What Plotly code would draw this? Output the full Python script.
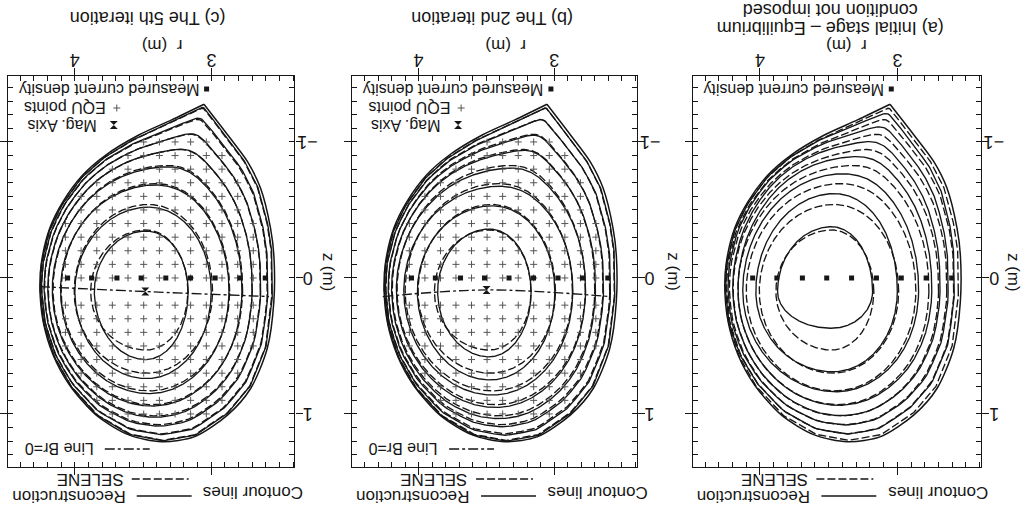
import numpy as np
import plotly.graph_objects as go

W, H = 1029, 511
FONT = "Liberation Sans, Arial, Helvetica, sans-serif"
INK = "#161616"

# ---------------- data ----------------
R_TICKS = [3, 4]
Z_TICKS = [-1, 0, 1]
Z_TICK_TEXT = ["\u22121", "0", "1"]
R_RANGE = [4.49, 2.39]      # r grows to the left (figure is printed upside down)
Z_RANGE = [1.39, -1.485]    # z grows downwards

# plasma boundary (separatrix), starting at the X-point
BOUNDARY_R = [3.053, 3.290, 3.531, 3.773, 3.942, 4.087, 4.184, 4.244, 4.256, 4.232,
              4.159, 4.039, 3.845, 3.604, 3.362, 3.121, 2.879, 2.710, 2.589, 2.541,
              2.541, 2.565, 2.638, 2.734, 2.879]
BOUNDARY_Z = [-1.277, -1.162, -1.051, -0.904, -0.757, -0.561, -0.365, -0.120, 0.064, 0.321,
              0.566, 0.787, 1.007, 1.154, 1.204, 1.167, 1.007, 0.811, 0.517, 0.174,
              -0.169, -0.365, -0.659, -0.855, -1.051]

# flux-surface crossings: outboard r, inboard r (midplane), upper z, lower z (through axis)
SELENE_R_OUT = [3.884, 4.005, 4.100, 4.160, 4.195, 4.222, 4.242, 4.252]
SELENE_R_IN = [3.171, 2.990, 2.865, 2.770, 2.700, 2.640, 2.590, 2.556]
SELENE_Z_UP = [0.530, 0.700, 0.830, 0.930, 1.010, 1.070, 1.130, 1.172]
SELENE_Z_DN = [-0.353, -0.540, -0.690, -0.810, -0.900, -0.970, -1.025, -1.062]

REC5_R_OUT = [3.857, 4.000, 4.105, 4.165, 4.198, 4.225, 4.243, 4.253]
REC5_R_IN = [3.169, 3.000, 2.870, 2.775, 2.700, 2.638, 2.586, 2.553]
REC5_Z_UP = [0.600, 0.740, 0.850, 0.940, 1.020, 1.080, 1.135, 1.175]
REC5_Z_DN = [-0.345, -0.520, -0.680, -0.800, -0.900, -0.970, -1.030, -1.064]

REC2_R_OUT = [3.860, 4.010, 4.110, 4.165, 4.200, 4.225, 4.243, 4.253]
REC2_R_IN = [3.170, 2.995, 2.862, 2.768, 2.695, 2.636, 2.585, 2.553]
REC2_Z_UP = [0.580, 0.750, 0.860, 0.950, 1.030, 1.085, 1.140, 1.178]
REC2_Z_DN = [-0.360, -0.530, -0.670, -0.790, -0.890, -0.960, -1.020, -1.060]

REC0_R_OUT = [3.872, 4.030, 4.125, 4.160, 4.198, 4.232, 4.250]
REC0_R_IN = [3.180, 3.000, 2.845, 2.749, 2.689, 2.630, 2.586]
REC0_Z_UP = [0.370, 0.690, 0.836, 0.934, 1.007, 1.070, 1.130]
REC0_Z_DN = [-0.377, -0.620, -0.760, -0.870, -0.950, -1.010, -1.055]

MAG_AXIS_R = [3.483, 3.499]          # panels (c), (b)
MAG_AXIS_Z = [0.100, 0.088]
BR0_C_R = [4.256, 3.483, 2.577]
BR0_C_Z = [0.064, 0.100, 0.137]
BR0_B_R = [4.265, 3.499, 2.586]
BR0_B_Z = [0.137, 0.088, 0.137]

MEAS_R = [4.053, 3.877, 3.691, 3.514, 3.333, 3.152, 2.971, 2.790, 2.604]
MEAS_Z = [0, 0, 0, 0, 0, 0, 0, 0, 0]

EQU_COLS_R = [4.184, 4.069, 3.954, 3.839, 3.725, 3.610, 3.495, 3.380, 3.265, 3.151,
              3.036, 2.921, 2.806, 2.692, 2.577]
EQU_ROWS_Z = [-1.0, -0.9, -0.8, -0.7, -0.6, -0.5, -0.4, -0.3, -0.2, -0.1, 0.0,
              0.2, 0.3, 0.4, 0.5, 0.6, 0.7, 0.8, 0.9, 1.0]
EQU_ROW_RMIN = [2.94, 2.87, 2.81, 2.76, 2.72, 2.70, 2.67, 2.66, 2.645, 2.645, 2.645,
                2.645, 2.645, 2.67, 2.69, 2.72, 2.76, 2.81, 2.89, 2.97]
EQU_ROW_RMAX = [3.52, 3.68, 3.79, 3.88, 3.96, 4.02, 4.07, 4.10, 4.14, 4.14, 4.14,
                4.14, 4.14, 4.11, 4.08, 4.04, 3.99, 3.93, 3.85, 3.75]

# ---------------- geometry helpers ----------------
R0, Z0 = 3.48, 0.10
NTH = 720
TH = np.linspace(-np.pi, np.pi, NTH, endpoint=False)


def boundary_polar():
    br = np.array(BOUNDARY_R + [BOUNDARY_R[0]])
    bz = np.array(BOUNDARY_Z + [BOUNDARY_Z[0]])
    t = np.linspace(0, len(br) - 1, 5000)
    dr = np.interp(t, np.arange(len(br)), br)
    dz = np.interp(t, np.arange(len(bz)), bz)
    ang = np.arctan2(dz - Z0, dr - R0)
    dist = np.hypot(dr - R0, dz - Z0)
    o = np.argsort(ang)
    return np.interp(TH, ang[o], dist[o], period=2 * np.pi)


D_RAW = boundary_polar()


def smooth_periodic(d, sigma):
    if sigma < 0.5:
        return d.copy()
    half = int(3 * sigma) + 1
    k = np.arange(-half, half + 1)
    w = np.exp(-0.5 * (k / sigma) ** 2)
    w /= w.sum()
    dp = np.concatenate([d[-half:], d, d[:half]])
    return np.convolve(dp, w, mode="valid")


def at(d, ang):
    return float(np.interp(ang, TH, d, period=2 * np.pi))


def flux_surface(r_out, r_in, z_up, z_dn):
    a_o, a_i, b_u, b_d = r_out - R0, R0 - r_in, z_up - Z0, Z0 - z_dn
    ratios = [a_o / at(D_RAW, 0.0), a_i / at(D_RAW, np.pi),
              b_u / at(D_RAW, np.pi / 2), b_d / at(D_RAW, -np.pi / 2)]
    rho = float(np.mean(ratios))
    ds = smooth_periodic(D_RAW, max(0.0, (1 - rho)) * NTH / 12)
    ro, ri = a_o / at(ds, 0.0), a_i / at(ds, np.pi)
    ru, rd = b_u / at(ds, np.pi / 2), b_d / at(ds, -np.pi / 2)
    c, s = np.cos(TH), np.sin(TH)
    rho_dir = (ro * np.clip(c, 0, None) ** 2 + ri * np.clip(-c, 0, None) ** 2
               + ru * np.clip(s, 0, None) ** 2 + rd * np.clip(-s, 0, None) ** 2)
    A = np.where(c >= 0, a_o, a_i)
    B = np.where(s >= 0, b_u, b_d)
    ell = 1.0 / np.sqrt((c / A) ** 2 + (s / B) ** 2)
    w = rho ** 4
    rad = (1 - w) * ell + w * rho_dir * ds
    r = R0 + rad * c
    z = Z0 + rad * s
    return np.append(r, r[0]), np.append(z, z[0])


# ---------------- figure ----------------
fig = go.Figure()
Y_DOM = [1 - 467 / H, 1 - 76 / H]
PANELS = [
    dict(key="", x0=6, x1=293, rec=(REC5_R_OUT, REC5_R_IN, REC5_Z_UP, REC5_Z_DN),
         br=(BR0_C_R, BR0_C_Z), mag=0, equ=True),
    dict(key="2", x0=351, x1=636, rec=(REC2_R_OUT, REC2_R_IN, REC2_Z_UP, REC2_Z_DN),
         br=(BR0_B_R, BR0_B_Z), mag=1, equ=True),
    dict(key="3", x0=692, x1=981, rec=(REC0_R_OUT, REC0_R_IN, REC0_Z_UP, REC0_Z_DN),
         br=None, mag=None, equ=False),
]

SOLID = dict(color=INK, width=1.35)
DASHED = dict(color=INK, width=1.35, dash="8px,3px")
BRDASH = dict(color=INK, width=1.35, dash="10px,3px,3px,3px")
PLUS = dict(symbol="cross-thin", size=5, color="#555", line=dict(color="#555", width=1))

ann = []


def txt(px, py, s, size=17, angle=180):
    ann.append(dict(x=px / W, y=1 - py / H, xref="paper", yref="paper", text=s, showarrow=False,
                    textangle=angle, font=dict(family=FONT, size=size, color=INK),
                    xanchor="center", yanchor="middle"))


for p in PANELS:
    xa, ya = "x" + p["key"], "y" + p["key"]
    for i in range(len(SELENE_R_OUT)):
        r, z = flux_surface(SELENE_R_OUT[i], SELENE_R_IN[i], SELENE_Z_UP[i], SELENE_Z_DN[i])
        fig.add_trace(go.Scatter(x=r, y=z, mode="lines", line=DASHED, xaxis=xa, yaxis=ya,
                                 hoverinfo="skip", showlegend=False))
    ro, ri, zu, zd = p["rec"]
    for i in range(len(ro)):
        r, z = flux_surface(ro[i], ri[i], zu[i], zd[i])
        fig.add_trace(go.Scatter(x=r, y=z, mode="lines", line=SOLID, xaxis=xa, yaxis=ya,
                                 hoverinfo="skip", showlegend=False))
    # boundary: open path from the X-point around back to (just beside) the X-point
    fig.add_trace(go.Scatter(x=BOUNDARY_R + [BOUNDARY_R[0] + 1e-4], y=BOUNDARY_Z + [BOUNDARY_Z[0]],
                             mode="lines", line=dict(color=INK, width=1.5, shape="spline", smoothing=0.8),
                             xaxis=xa, yaxis=ya, hoverinfo="skip", showlegend=False))
    if p["equ"]:
        er, ez = [], []
        for zz, lo, hi in zip(EQU_ROWS_Z, EQU_ROW_RMIN, EQU_ROW_RMAX):
            for rr in EQU_COLS_R:
                if lo <= rr <= hi:
                    er.append(rr)
                    ez.append(zz)
        fig.add_trace(go.Scatter(x=er, y=ez, mode="markers", xaxis=xa, yaxis=ya, marker=PLUS,
                                 hoverinfo="skip", showlegend=False))
    fig.add_trace(go.Scatter(x=MEAS_R, y=MEAS_Z, mode="markers", xaxis=xa, yaxis=ya,
                             marker=dict(symbol="square", size=5, color=INK),
                             hoverinfo="skip", showlegend=False))
    if p["br"] is not None:
        fig.add_trace(go.Scatter(x=p["br"][0], y=p["br"][1], mode="lines",
                                 line=dict(BRDASH, shape="spline"), xaxis=xa, yaxis=ya,
                                 hoverinfo="skip", showlegend=False))
    if p["mag"] is not None:
        m = p["mag"]
        fig.add_trace(go.Scatter(x=[MAG_AXIS_R[m]], y=[MAG_AXIS_Z[m]], mode="markers",
                                 xaxis=xa, yaxis=ya,
                                 marker=dict(symbol="hourglass", size=8, color=INK),
                                 hoverinfo="skip", showlegend=False))

    common = dict(showgrid=False, zeroline=False, showline=True, linecolor=INK, linewidth=1.2,
                  mirror="allticks", ticks="outside", ticklen=7, tickwidth=1, tickcolor=INK,
                  showticklabels=False, fixedrange=True,
                  minor=dict(tickmode="linear", tick0=0, dtick=0.1, ticks="inside", ticklen=5,
                             tickwidth=1, tickcolor=INK))
    fig.update_layout(**{
        "xaxis" + p["key"]: dict(common, domain=[p["x0"] / W, p["x1"] / W], range=R_RANGE,
                                 side="top", tickmode="array", tickvals=R_TICKS, anchor=ya),
        "yaxis" + p["key"]: dict(common, domain=Y_DOM, range=Z_RANGE, side="right",
                                 tickmode="array", tickvals=Z_TICKS, anchor=xa),
    })
    # tick labels, upside down, placed through the axes' own scales
    for v in R_TICKS:
        ann.append(dict(x=v, y=1 - 60 / H, xref=xa, yref="paper", text=str(v), showarrow=False,
                        textangle=180, font=dict(family=FONT, size=18, color=INK),
                        xanchor="center", yanchor="middle"))
    for v, t in zip(Z_TICKS, Z_TICK_TEXT):
        ann.append(dict(x=(p["x1"] + 13) / W, y=v, xref="paper", yref=ya, text=t, showarrow=False,
                        textangle=180, font=dict(family=FONT, size=18, color=INK),
                        xanchor="center", yanchor="middle"))

# overlay pixel axes for legend glyphs
fig.update_layout(xaxis4=dict(domain=[0, 1], range=[0, W], visible=False, fixedrange=True, anchor="y4"),
                  yaxis4=dict(domain=[0, 1], range=[H, 0], visible=False, fixedrange=True, anchor="x4"))


def glyph_line(x0, x1, y, line):
    fig.add_trace(go.Scatter(x=[x0, x1], y=[y, y], mode="lines", line=line, xaxis="x4", yaxis="y4",
                             hoverinfo="skip", showlegend=False))


def glyph_marker(x, y, marker):
    fig.add_trace(go.Scatter(x=[x], y=[y], mode="markers", marker=marker, xaxis="x4", yaxis="y4",
                             hoverinfo="skip", showlegend=False))


TITLES = ["(c) The 5th iteration", "(b) The 2nd iteration"]
for i, p in enumerate(PANELS):
    X0 = p["x0"]
    txt(X0 + 101, 89, "Measured current density", 16)
    glyph_marker(X0 + 199, 89, dict(symbol="square", size=5, color=INK))
    if p["equ"]:
        txt(X0 + 57, 108, "EQU points", 16)
        glyph_marker(X0 + 109, 108, PLUS)
        txt(X0 + 54, 125, "Mag. Axis", 16)
        glyph_marker(X0 + 106, 125, dict(symbol="hourglass", size=8, color=INK))
        txt(X0 + 51, 449, "Line Br=0", 16)
        glyph_line(X0 + 97, X0 + 142, 449, BRDASH)
    txt(X0 + 246, 493, "Contour lines", 17)
    txt(X0 + 61, 497, "Reconstruction", 17)
    glyph_line(X0 + 129, X0 + 184, 496, SOLID)
    txt(X0 + 82, 480, "SELENE", 17)
    glyph_line(X0 + 124, X0 + 181, 479, DASHED)
    txt(X0 + 154, 45, "r\u00a0\u00a0(m)", 17)
    txt(X0 + 322, 272, "z\u00a0(m)", 17, angle=90)
    if i < 2:
        txt(X0 + 140, 18, TITLES[i], 18)
    else:
        txt(X0 + 138, 28, "(a) Initial stage \u2013 Equilibrium", 18)
        txt(X0 + 138, 10, "condition not imposed", 18)

fig.update_layout(width=W, height=H, margin=dict(l=0, r=0, t=0, b=0),
                  paper_bgcolor="white", plot_bgcolor="rgba(0,0,0,0)", showlegend=False,
                  annotations=ann)

fig.write_html("out.html")
